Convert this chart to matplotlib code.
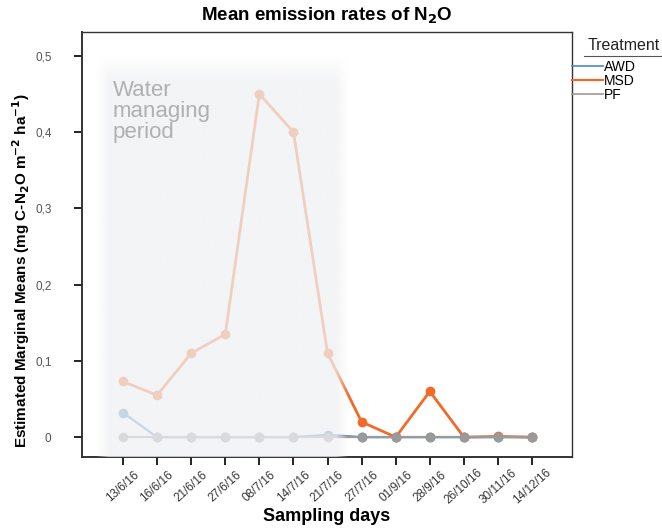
import numpy as np
import matplotlib
matplotlib.use('Agg')
import matplotlib.pyplot as plt
from matplotlib.lines import Line2D

plt.rcParams['font.family'] = ['Liberation Sans', 'DejaVu Sans']

# 採取日
days = ['13/6/16', '16/6/16', '21/6/16', '27/6/16', '08/7/16', '14/7/16', '21/7/16',
        '27/7/16', '01/9/16', '28/9/16', '26/10/16', '30/11/16', '14/12/16']
awd = [0.032, 0.0, 0.0, 0.0, 0.0, 0.0, 0.003, 0.0, 0.0, 0.0, 0.0, 0.0, 0.0]
msd = [0.073, 0.055, 0.11, 0.135, 0.45, 0.40, 0.11, 0.02, 0.0, 0.06, 0.0, 0.001, 0.0]
pf = [0.0, 0.0, 0.0, 0.0, 0.0, 0.0, 0.0, 0.0, 0.0, 0.0, 0.0, 0.0, 0.0]
ytick_vals = [0, 0.1, 0.2, 0.3, 0.4, 0.5]
ytick_labels = ['0', '0,1', '0,2', '0,3', '0,4', '0,5']

fig = plt.figure(figsize=(6.62, 5.28), dpi=100)
ax = fig.add_axes([0.124, 0.1345, 0.74, 0.8045])

x = list(range(len(days)))
ax.plot(x, awd, color='#4d88c4', lw=1.6, marker='o', ms=6, label='AWD', zorder=2.0)
ax.plot(x, msd, color='#f26a2a', lw=2.0, marker='o', ms=6, label='MSD', zorder=2.1)
ax.plot(x, pf, color='#9a9a9a', lw=1.6, marker='o', ms=6, label='PF', zorder=2.2)

# 水管理期間の網掛け (ぼかした縁、線の上に重ねて薄く見せる)
gx = np.linspace(0, 1, 400)
gy = np.linspace(0, 1, 400)
ramp_x = np.clip(np.minimum(gx, 1 - gx) / 0.05, 0, 1)
ramp_y = np.clip((1 - gy) / 0.06, 0, 1)
mask = np.outer(ramp_y, ramp_x)
img = np.zeros((400, 400, 4))
img[..., :3] = np.array([240, 241, 243]) / 255
img[..., 3] = 0.75 * mask
ax.imshow(img, extent=(-0.8, 6.6, -0.04, 0.50), origin='lower', aspect='auto',
          interpolation='bilinear', zorder=3)
ax.text(-0.3, 0.468, 'Water\nmanaging\nperiod', color='#b0b0b0', fontsize=16,
        va='top', ha='left', linespacing=1.0, zorder=4)

ax.set_xlim(-1.2, 13.17)
ax.set_ylim(-0.026, 0.531)
ax.set_xticks(x)
ax.set_xticklabels(days, rotation=42, ha='center', va='center', rotation_mode='anchor',
                   fontsize=8.5, color='#333333')
ax.set_yticks(ytick_vals)
ax.set_yticklabels(ytick_labels, fontsize=8.5, color='#555555')
ax.tick_params(axis='both', direction='out', length=6, width=1.4, color='#222222')
ax.tick_params(axis='x', pad=15)
ax.tick_params(axis='y', pad=16)
for s in ax.spines.values():
    s.set_color('#333333')
    s.set_linewidth(1.0)
ax.spines['left'].set_linewidth(1.4)
ax.spines['bottom'].set_linewidth(1.4)

ax.set_title('Mean emission rates of N$_\\mathbf{2}$O', fontsize=13.5, fontweight='bold', pad=8)
ax.set_xlabel('Sampling days', fontsize=13, fontweight='bold')
ax.xaxis.set_label_coords(0.5, -0.12)
ax.set_ylabel('Estimated Marginal Means (mg C-N$_\\mathbf{2}$O m$^\\mathbf{-2}$ ha$^\\mathbf{-1}$)',
              fontsize=11, fontweight='bold')
ax.yaxis.set_label_coords(-0.102, 0.44)

# 凡例 (タイトルは下線付き)
fig.text(588 / 662, 1 - 46 / 528, 'Treatment', fontsize=11.5, va='center', ha='left', color='#222222')
fig.add_artist(Line2D([584 / 662, 1.0], [1 - 56 / 528, 1 - 56 / 528], color='#555555', lw=0.8))
handles = [Line2D([], [], color='#4d88c4', lw=1.2),
           Line2D([], [], color='#f26a2a', lw=1.6),
           Line2D([], [], color='#9a9a9a', lw=1.2)]
fig.legend(handles, ['AWD', 'MSD', 'PF'], loc='upper left', bbox_to_anchor=(572 / 662, 1 - 60 / 528),
           frameon=False, fontsize=10, handlelength=2.2, handletextpad=0.1, labelspacing=0.0,
           borderaxespad=0, borderpad=0)

fig.savefig('out.png', dpi=100)
